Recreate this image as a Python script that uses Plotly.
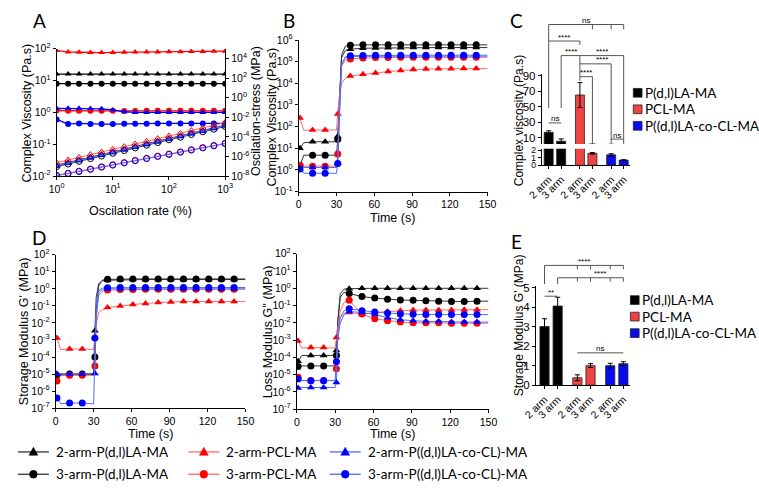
import plotly.graph_objects as go

W, H = 759, 489
def X(px): return px / W
def Y(py): return 1 - py / H

# ---------------- series identity ----------------
series = ["2-arm-P(d,l)LA-MA", "3-arm-P(d,l)LA-MA", "2-arm-PCL-MA", "3-arm-PCL-MA",
          "2-arm-P((d,l)LA-co-CL)-MA", "3-arm-P((d,l)LA-co-CL)-MA"]
mk_color = ["#000000", "#000000", "#FF0000", "#FF0000", "#0000FF", "#0000FF"]
ln_color = ["#333333", "#333333", "#FF6A6A", "#FF6A6A", "#4A6CFF", "#4A6CFF"]
symbol = ["triangle-up", "circle", "triangle-up", "circle", "triangle-up", "circle"]

# ---------------- Panel A : amplitude sweep ----------------
strain_pct = [1, 1.6, 2.5, 4, 6.3, 10, 16, 25, 40, 63, 100, 160, 250, 400, 630, 1000]
visc_A_2PDLLA = [16, 16, 16, 16, 16, 16, 16, 16, 16, 16, 16, 16, 16, 16, 16, 16]
visc_A_3PDLLA = [8.0, 8.0, 8.0, 8.0, 8.0, 8.0, 8.0, 8.0, 8.0, 8.0, 8.0, 8.0, 8.0, 8.0, 8.0, 8.0]
visc_A_2PCL = [88, 80, 78, 76, 76, 77, 78, 79, 80, 80, 81, 81, 82, 82, 83, 84]
visc_A_3PCL = [1.15, 1.12, 1.12, 1.12, 1.12, 1.12, 1.1, 1.1, 1.12, 1.12, 1.12, 1.12, 1.12, 1.12, 1.12, 1.12]
visc_A_2CO = [1.35, 1.35, 1.35, 1.33, 1.3, 1.2, 1.05, 1.0, 1.0, 1.0, 1.0, 1.0, 1.0, 1.0, 1.0, 1.0]
visc_A_3CO = [0.6, 0.43, 0.45, 0.43, 0.43, 0.43, 0.44, 0.44, 0.44, 0.45, 0.45, 0.45, 0.45, 0.45, 0.45, 0.45]

stress_A_2PDLLA = [1.3e-7, 2.4e-7, 4.5e-7, 8.5e-7, 1.6e-6, 3e-6, 5.6e-6, 1.05e-5, 2e-5, 3.7e-5, 7e-5, 1.3e-4, 2.45e-4, 4.6e-4, 8.6e-4, 1.6e-3]
stress_A_3PDLLA = [9e-8, 1.7e-7, 3.2e-7, 6e-7, 1.1e-6, 2.1e-6, 4e-6, 7.5e-6, 1.4e-5, 2.6e-5, 5e-5, 9.3e-5, 1.75e-4, 3.3e-4, 6.1e-4, 1.15e-3]
stress_A_2PCL = [2.3e-7, 4.3e-7, 8.1e-7, 1.52e-6, 2.85e-6, 5.3e-6, 1e-5, 1.88e-5, 3.5e-5, 6.6e-5, 1.24e-4, 2.3e-4, 4.4e-4, 8.2e-4, 1.54e-3, 2.9e-3]
stress_A_3PCL = [1.2e-8, 1.95e-8, 3.2e-8, 5.3e-8, 8.8e-8, 1.45e-7, 2.4e-7, 4e-7, 6.6e-7, 1.1e-6, 1.8e-6, 3e-6, 5e-6, 8.2e-6, 1.35e-5, 2.2e-5]
stress_A_2CO = [1.1e-7, 2.1e-7, 4e-7, 7.5e-7, 1.4e-6, 2.6e-6, 4.9e-6, 9.2e-6, 1.7e-5, 3.2e-5, 6e-5, 1.15e-4, 2.15e-4, 4e-4, 7.5e-4, 1.4e-3]
stress_A_3CO = [1.07e-8, 1.77e-8, 2.9e-8, 4.8e-8, 8e-8, 1.3e-7, 2.2e-7, 3.6e-7, 6e-7, 9.9e-7, 1.6e-6, 2.7e-6, 4.5e-6, 7.4e-6, 1.2e-5, 2e-5]

# ---------------- Panels B, D : time sweeps ----------------
time_s = [1, 4, 11, 21, 30, 31, 32, 34, 37, 41, 51, 61, 71, 81, 91, 101, 111, 121, 131, 141, 150]

visc_B_2PDLLA = [10, 18, 20, 20, 20, 36, 800, 1.5e5, 3.3e5, 3.8e5, 4.2e5, 4.3e5, 4.4e5, 4.4e5, 4.5e5, 4.5e5, 4.5e5, 4.5e5, 4.5e5, 4.5e5, 4.5e5]
visc_B_3PDLLA = [1.6, 4.8, 4.8, 4.8, 4.8, 26, 600, 2e5, 5.2e5, 5.8e5, 6e5, 6e5, 6e5, 6e5, 6e5, 6e5, 6e5, 6e5, 6e5, 6e5, 6e5]
visc_B_2PCL = [250, 68, 70, 70, 70, 380, 2000, 1e4, 1.7e4, 2.2e4, 2.6e4, 3e4, 3.5e4, 3.9e4, 4.4e4, 4.6e4, 4.7e4, 4.7e4, 4.8e4, 4.8e4, 4.8e4]
visc_B_3PCL = [1.6, 1.5, 1.5, 1.5, 1.5, 5.5, 300, 6e4, 1.2e5, 1.35e5, 1.5e5, 1.55e5, 1.55e5, 1.6e5, 1.6e5, 1.6e5, 1.6e5, 1.6e5, 1.6e5, 1.6e5, 1.6e5]
visc_B_2CO = [1.05, 1.3, 1.3, 1.3, 1.3, 2.1, 200, 8e4, 1.6e5, 1.75e5, 1.8e5, 1.8e5, 1.8e5, 1.8e5, 1.8e5, 1.8e5, 1.8e5, 1.8e5, 1.8e5, 1.8e5, 1.8e5]
visc_B_3CO = [1.1, 0.7, 0.7, 0.7, 0.7, 2.0, 150, 7e4, 1.7e5, 1.9e5, 1.95e5, 2e5, 2e5, 2e5, 2e5, 2e5, 2e5, 2e5, 2e5, 2e5, 2e5]

gp_D_2PDLLA = [1e-5, 1e-5, 1e-5, 1e-5, 1e-5, 3.5e-3, 0.3, 2.0, 3.0, 3.2, 3.4, 3.5, 3.5, 3.5, 3.5, 3.5, 3.5, 3.5, 3.5, 3.5, 3.5]
gp_D_3PDLLA = [8e-6, 1e-5, 1e-5, 1e-5, 1e-5, 1e-4, 0.05, 1.5, 3.3, 3.6, 3.8, 3.8, 3.8, 3.8, 3.8, 3.8, 3.8, 3.8, 3.8, 3.8, 3.8]
gp_D_2PCL = [1.3e-3, 2.7e-4, 3e-4, 3e-4, 2.8e-4, 1.5e-3, 8e-3, 0.04, 0.06, 0.08, 0.1, 0.12, 0.14, 0.16, 0.17, 0.18, 0.18, 0.18, 0.18, 0.18, 0.18]
gp_D_3PCL = [4e-6, 8.5e-6, 8.5e-6, 8.5e-6, 8.5e-6, 3e-5, 0.02, 0.4, 0.75, 0.85, 0.9, 0.92, 0.93, 0.94, 0.95, 0.95, 0.95, 0.95, 0.95, 0.95, 0.95]
gp_D_2CO = [1e-5, 8.5e-6, 1e-5, 1e-5, 1e-5, 1.1e-5, 0.02, 0.6, 0.95, 1.0, 1.0, 1.0, 1.0, 1.0, 1.0, 1.0, 1.0, 1.0, 1.0, 1.0, 1.0]
gp_D_3CO = [4e-7, 1.8e-7, 2e-7, 2e-7, 1.8e-7, 1.3e-3, 0.1, 0.8, 1.1, 1.15, 1.2, 1.2, 1.2, 1.2, 1.2, 1.2, 1.2, 1.2, 1.2, 1.2, 1.2]

gpp_D_2PDLLA = [6e-5, 1.3e-4, 1.3e-4, 1.3e-4, 1.3e-4, 2.5e-4, 0.01, 0.5, 0.9, 0.95, 1.0, 1.0, 1.0, 1.0, 1.0, 1.0, 1.0, 1.0, 1.0, 1.0, 1.0]
gpp_D_3PDLLA = [3e-5, 3.2e-5, 3.2e-5, 3.2e-5, 3.2e-5, 1.3e-4, 0.01, 0.3, 0.6, 0.5, 0.33, 0.27, 0.23, 0.21, 0.2, 0.19, 0.18, 0.17, 0.17, 0.18, 0.18]
gpp_D_2PCL = [9e-4, 3.5e-4, 3.7e-4, 3.7e-4, 3.5e-4, 1.4e-3, 5e-3, 0.02, 0.035, 0.04, 0.032, 0.04, 0.045, 0.05, 0.055, 0.055, 0.055, 0.055, 0.058, 0.058, 0.058]
gpp_D_3PCL = [7e-6, 4.6e-6, 4.6e-6, 4.6e-6, 4.6e-6, 2.2e-5, 3e-3, 0.05, 0.15, 0.2, 0.032, 0.017, 0.013, 0.011, 0.01, 0.01, 0.01, 0.0095, 0.0095, 0.0095, 0.0095]
gpp_D_2CO = [1.7e-6, 1.8e-6, 1.8e-6, 1.8e-6, 1.8e-6, 3.5e-6, 1e-3, 0.01, 0.03, 0.045, 0.04, 0.03, 0.02, 0.015, 0.013, 0.012, 0.012, 0.011, 0.011, 0.011, 0.011]
gpp_D_3CO = [5.6e-6, 4.5e-6, 4.5e-6, 4.5e-6, 4.5e-6, 5.6e-5, 2e-3, 0.02, 0.05, 0.065, 0.05, 0.042, 0.037, 0.033, 0.031, 0.03, 0.03, 0.03, 0.03, 0.03, 0.03]

# ---------------- Panels C, E : bars ----------------
groups = ["P(d,l)LA-MA", "PCL-MA", "P((d,l)LA-co-CL-MA"]
arms = ["2 arm", "3 arm"]
bar_color = ["#000000", "#F04444", "#0A0AEE"]
visc_C_PDLLA = [17, 5.5]
visc_C_PCL = [65, 1.6]
visc_C_CO = [1.4, 0.7]
visc_C_err_PDLLA = [2, 3]
visc_C_err_PCL = [16, 0.1]
visc_C_err_CO = [0.15, 0.05]
gp_E_PDLLA = [3.0, 4.05]
gp_E_PCL = [0.38, 1.0]
gp_E_CO = [1.0, 1.1]
gp_E_err_PDLLA = [0.4, 0.45]
gp_E_err_PCL = [0.15, 0.1]
gp_E_err_CO = [0.12, 0.1]

visc_A = [visc_A_2PDLLA, visc_A_3PDLLA, visc_A_2PCL, visc_A_3PCL, visc_A_2CO, visc_A_3CO]
stress_A = [stress_A_2PDLLA, stress_A_3PDLLA, stress_A_2PCL, stress_A_3PCL, stress_A_2CO, stress_A_3CO]
visc_B = [visc_B_2PDLLA, visc_B_3PDLLA, visc_B_2PCL, visc_B_3PCL, visc_B_2CO, visc_B_3CO]
gp_D = [gp_D_2PDLLA, gp_D_3PDLLA, gp_D_2PCL, gp_D_3PCL, gp_D_2CO, gp_D_3CO]
gpp_D = [gpp_D_2PDLLA, gpp_D_3PDLLA, gpp_D_2PCL, gpp_D_3PCL, gpp_D_2CO, gpp_D_3CO]
visc_C = [visc_C_PDLLA, visc_C_PCL, visc_C_CO]
visc_C_err = [visc_C_err_PDLLA, visc_C_err_PCL, visc_C_err_CO]
gp_E = [gp_E_PDLLA, gp_E_PCL, gp_E_CO]
gp_E_err = [gp_E_err_PDLLA, gp_E_err_PCL, gp_E_err_CO]

def pos(g, a):
    return g * 2.5 + a

fig = go.Figure()

# ---- A ----
for i, s in enumerate(series):
    fig.add_trace(go.Scatter(x=strain_pct, y=visc_A[i], mode="lines+markers", xaxis="x", yaxis="y", name=s,
                             line=dict(color=mk_color[i], width=1.3),
                             marker=dict(symbol=symbol[i], size=6, color=mk_color[i])))
    fig.add_trace(go.Scatter(x=strain_pct, y=stress_A[i], mode="lines+markers", xaxis="x", yaxis="y2", name=s,
                             line=dict(color=ln_color[i], width=1.0),
                             marker=dict(symbol=symbol[i] + "-open", size=6, color=mk_color[i], line=dict(width=1))))

# ---- time sweeps B, D (G'), D (G'') ----
mark_idx = [k for k, t in enumerate(time_s) if (t - 1) % 10 == 0]
for data, xa, ya in [(visc_B, "x2", "y3"), (gp_D, "x5", "y6"), (gpp_D, "x6", "y7")]:
    for i, s in enumerate(series):
        fig.add_trace(go.Scatter(x=time_s, y=data[i], mode="lines", xaxis=xa, yaxis=ya, name=s,
                                 line=dict(color=ln_color[i], width=1)))
        fig.add_trace(go.Scatter(x=[time_s[k] for k in mark_idx], y=[data[i][k] for k in mark_idx],
                                 mode="markers", xaxis=xa, yaxis=ya, name=s,
                                 marker=dict(symbol=symbol[i], size=7, color=mk_color[i])))

# ---- bars C (broken axis) and E ----
for g in range(3):
    xs = [pos(g, a) for a in range(2)]
    for xa, ya in [("x3", "y4"), ("x4", "y5")]:
        fig.add_trace(go.Bar(x=xs, y=visc_C[g], xaxis=xa, yaxis=ya, width=0.72, name=groups[g],
                             marker=dict(color=bar_color[g], line=dict(color="#222222", width=0.8)),
                             error_y=dict(type="data", array=visc_C_err[g], color="#000000", thickness=1, width=2.5)))
    fig.add_trace(go.Bar(x=xs, y=gp_E[g], xaxis="x7", yaxis="y8", width=0.7, name=groups[g],
                         marker=dict(color=bar_color[g], line=dict(color="#222222", width=0.8)),
                         error_y=dict(type="data", array=gp_E_err[g], color="#000000", thickness=1, width=2.5)))

# ---------------- axes ----------------
TF = dict(family="Liberation Sans, Arial", size=10.5, color="#000")
def ax(**kw):
    d = dict(showline=True, linecolor="#000", linewidth=1, ticks="outside", ticklen=3, tickwidth=1,
             tickcolor="#000", showgrid=False, zeroline=False, tickfont=TF, mirror=False)
    d.update(kw)
    return d

def logticks(lo, hi, step=1):
    vals = [10.0 ** k for k in range(lo, hi + 1, step)]
    txt = ["10<sup>%d</sup>" % k for k in range(lo, hi + 1, step)]
    return vals, txt

v, t = logticks(0, 3)
lay = dict(
    xaxis=ax(type="log", range=[0, 3], domain=[X(43), X(217)], anchor="y", tickvals=v, ticktext=t),
)
v, t = logticks(-2, 2)
lay["yaxis"] = ax(type="log", range=[-2, 2], domain=[Y(173), Y(42)], anchor="x", tickvals=v, ticktext=t)
v, t = logticks(-8, 4, 2)
lay["yaxis2"] = ax(type="log", range=[-8, 5], overlaying="y", side="right", anchor="x", tickvals=v, ticktext=t)

tv = [0, 30, 60, 90, 120, 150]
lay["xaxis2"] = ax(range=[0, 150], domain=[X(293), X(488)], anchor="y3", tickvals=tv)
v, t = logticks(-1, 6)
lay["yaxis3"] = ax(type="log", range=[-1, 6], domain=[Y(189), Y(33)], anchor="x2", tickvals=v, ticktext=t)

barpos = [pos(g, a) for g in range(3) for a in range(2)]
bartxt = [arms[a] for g in range(3) for a in range(2)]
BF = dict(family="Liberation Sans, Arial", size=10.5, color="#000")
lay["xaxis3"] = ax(range=[-0.55, 6.5], domain=[X(544), X(635)], anchor="y4", tickvals=barpos, ticktext=bartxt,
                   tickangle=-45, tickfont=BF)
lay["yaxis4"] = ax(range=[0, 2.2], domain=[Y(162), Y(145)], anchor="x3", tickvals=[0, 1, 2], tickfont=dict(BF, size=8.5))
lay["xaxis4"] = dict(matches="x3", domain=[X(544), X(635)], anchor="y5", visible=False)
lay["yaxis5"] = ax(range=[2, 92], domain=[Y(140), Y(68)], anchor="x4", tickvals=[10, 30, 50, 70, 90], tickfont=dict(BF, size=11.5))

lay["xaxis5"] = ax(range=[0, 150], domain=[X(42), X(238)], anchor="y6", tickvals=tv)
v, t = logticks(-7, 2)
lay["yaxis6"] = ax(type="log", range=[-7, 2], domain=[Y(412), Y(254)], anchor="x5", tickvals=v, ticktext=t)
lay["xaxis6"] = ax(range=[0, 150], domain=[X(291), X(489)], anchor="y7", tickvals=tv)
lay["yaxis7"] = ax(type="log", range=[-7, 2], domain=[Y(413), Y(253)], anchor="x6", tickvals=v, ticktext=t)

lay["xaxis7"] = ax(range=[-0.65, 6.5], domain=[X(538), X(635)], anchor="y8", tickvals=barpos, ticktext=bartxt,
                   tickangle=-45, tickfont=BF)
lay["yaxis8"] = ax(range=[0, 5.05], domain=[Y(388.3), Y(286.7)], anchor="x7", tickvals=[0, 1, 2, 3, 4, 5],
                   tickfont=dict(BF, size=11.5))

# ---------------- annotations & shapes ----------------
ann = []
shapes = []
def txt(x, y, s, size=12.5, angle=0, family="Liberation Sans, Arial", xanchor="center", xref="paper"):
    ann.append(dict(x=x, y=Y(y), xref=xref, yref="paper", text=s, showarrow=False, textangle=angle,
                    font=dict(family=family, size=size, color="#000"), xanchor=xanchor, yanchor="middle"))

# axis titles
txt(X(12), 108, "Complex Viscosity (Pa.s)", angle=-90)
txt(X(249), 106, "Oscilation-stress (MPa)", angle=-90)
txt(X(130), 209, "Oscilation rate (%)")
txt(X(265), 112, "Complex Viscosity (Pa.s)", angle=-90)
txt(X(390), 216, "Time (s)")
txt(X(520), 116, "Complex viscosity (Pa.s)", angle=-90, size=12)
txt(X(10), 333, "Storage Modulus G' (MPa)", angle=-90)
txt(X(140), 439, "Time (s)")
txt(X(262), 333, "Loss Modulus G'' (MPa)", angle=-90)
txt(X(390), 439, "Time (s)")
txt(X(520), 327, "Storage Modulus G' (MPa)", angle=-90, size=12)

# panel letters
for L, (x, y) in zip("ABCDE", [(25, 13), (283, 13), (518, 13), (25, 236), (518, 240)]):
    txt(X(x), y, L, size=19, family="Lato")

# bar legends (C and E)
for top, sq_x in [(87.3, 643), (300.7, 640)]:
    for g in range(3):
        yy = top + g * 17
        shapes.append(dict(type="rect", xref="paper", yref="paper", x0=X(sq_x - 4.5), x1=X(sq_x + 4.5),
                           y0=Y(yy + 4.5), y1=Y(yy - 4.5), fillcolor=bar_color[g], line=dict(color="#222", width=0.8)))
        txt(X(sq_x + 5.5), yy, groups[g], size=13.5, family="Lato", xanchor="left")

# bottom legend (3 columns x 2 rows): key line + key symbol + label
col_text_x = [40, 216, 362]
row_y = [457, 480]
for i, s in enumerate(series):
    tx, ty = col_text_x[i // 2], row_y[i % 2]
    kx0, kx1 = tx - 37, tx - 5
    cx = (kx0 + kx1) / 2
    shapes.append(dict(type="line", xref="paper", yref="paper", x0=X(kx0), x1=X(kx1), y0=Y(ty), y1=Y(ty),
                       line=dict(color=ln_color[i], width=1.3)))
    if symbol[i] == "circle":
        shapes.append(dict(type="circle", xref="paper", yref="paper", x0=X(cx - 4), x1=X(cx + 4),
                           y0=Y(ty + 4), y1=Y(ty - 4), fillcolor=mk_color[i], line=dict(color=mk_color[i], width=0.5)))
    else:
        path = "M %f,%f L %f,%f L %f,%f Z" % (X(cx), Y(ty - 4.8), X(cx - 4.6), Y(ty + 3.4), X(cx + 4.6), Y(ty + 3.4))
        shapes.append(dict(type="path", xref="paper", yref="paper", path=path, fillcolor=mk_color[i],
                           line=dict(color=mk_color[i], width=0.5)))
    txt(X(tx), ty, s, size=13.5, family="Lato", xanchor="left")

# significance brackets
def hline(xa, p0, p1, y):
    shapes.append(dict(type="line", xref=xa, yref="paper", x0=p0, x1=p1, y0=Y(y), y1=Y(y),
                       line=dict(color="#555", width=1)))
def vline(xa, p, y0, y1):
    shapes.append(dict(type="line", xref=xa, yref="paper", x0=p, x1=p, y0=Y(y0), y1=Y(y1),
                       line=dict(color="#555", width=1)))
def sig(xa, p, y, s):
    ann.append(dict(x=p, y=Y(y), xref=xa, yref="paper", text=s, showarrow=False,
                    font=dict(family="Liberation Sans, Arial", size=8, color="#000"), yanchor="middle"))

xa = "x3"
hline(xa, pos(0, 0), pos(2, 1), 17); sig(xa, (pos(0, 0) + pos(2, 1)) / 2, 12.5, "ns")
vline(xa, pos(0, 0), 17, 103)
for p in [pos(1, 1), pos(2, 0), pos(2, 1)]:
    vline(xa, p, 17, 22)
hline(xa, pos(0, 0), pos(1, 0), 34); vline(xa, pos(1, 0), 34, 38); sig(xa, (pos(0, 0) + pos(1, 0)) / 2, 30.5, "****")
hline(xa, pos(0, 1), pos(2, 1), 49); vline(xa, pos(0, 1), 49, 103); vline(xa, pos(1, 0), 49, 75)
vline(xa, pos(2, 1), 49, 140)
sig(xa, (pos(0, 1) + pos(1, 0)) / 2, 45, "****"); sig(xa, (pos(1, 0) + pos(2, 1)) / 2, 45, "****")
hline(xa, pos(1, 0), pos(2, 0), 57.5); vline(xa, pos(2, 0), 57.5, 140); sig(xa, (pos(1, 1) + pos(2, 0)) / 2, 53.5, "****")
hline(xa, pos(1, 0), pos(1, 1), 70.7); vline(xa, pos(1, 1), 70.7, 140); sig(xa, (pos(1, 0) + pos(1, 1)) / 2, 66.5, "****")
hline(xa, pos(0, 0), pos(0, 1), 118.3); sig(xa, (pos(0, 0) + pos(0, 1)) / 2, 114, "ns")
hline(xa, pos(2, 0), pos(2, 1), 135); sig(xa, (pos(2, 0) + pos(2, 1)) / 2, 131, "ns")

xa = "x7"
hline(xa, pos(0, 0), pos(2, 1), 265); vline(xa, pos(0, 0), 265, 284.3)
for p in [pos(1, 0), pos(1, 1), pos(2, 0), pos(2, 1)]:
    vline(xa, p, 265, 269)
sig(xa, (pos(1, 0) + pos(1, 1)) / 2, 261, "****")
hline(xa, pos(0, 1), pos(2, 1), 277.7); vline(xa, pos(0, 1), 277.7, 284.3)
for p in [pos(1, 0), pos(1, 1), pos(2, 0), pos(2, 1)]:
    vline(xa, p, 277.7, 281.7)
sig(xa, (pos(1, 0) + pos(2, 1)) / 2, 273.5, "****")
hline(xa, pos(0, 0), pos(0, 1), 296.7); sig(xa, (pos(0, 0) + pos(0, 1)) / 2, 292.7, "**")
hline(xa, pos(1, 0), pos(2, 1), 355); sig(xa, (pos(1, 0) + pos(2, 1)) / 2, 350.5, "ns")

fig.update_layout(
    width=W, height=H, autosize=False, margin=dict(l=0, r=0, t=0, b=0),
    paper_bgcolor="white", plot_bgcolor="rgba(0,0,0,0)", barmode="overlay", showlegend=False,
    annotations=ann, shapes=shapes,
    **lay,
)

fig.write_html("out.html")
